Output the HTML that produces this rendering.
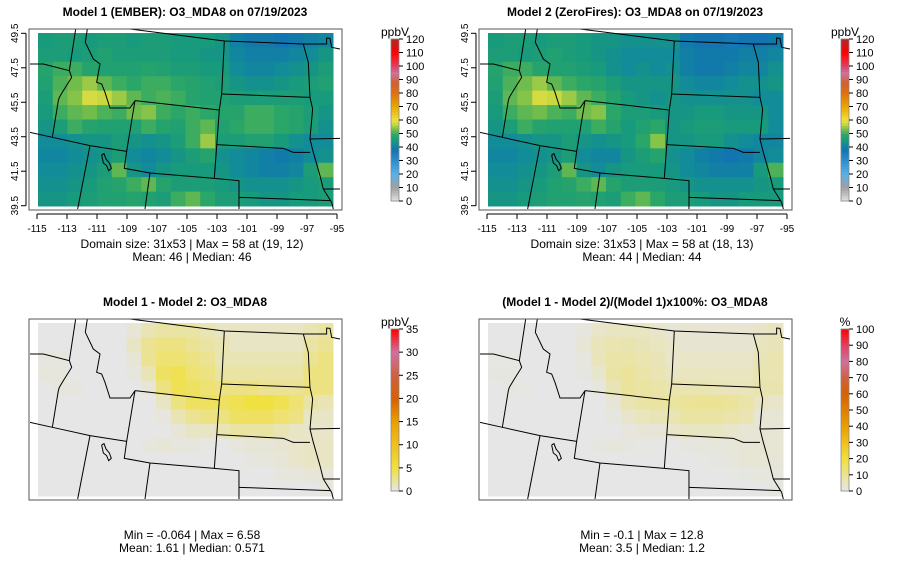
<!DOCTYPE html>
<html><head><meta charset="utf-8">
<style>
body{margin:0;background:#fff;}
svg{display:block;font-family:"Liberation Sans",sans-serif;}
</style></head>
<body>
<svg id="fig" width="900" height="579" viewBox="0 0 900 579"></svg>
<script>
// ---- data: 12 rows (north->south) x 20 cols (lon -115..-96)
const lonTicks=[-115,-113,-111,-109,-107,-105,-103,-101,-99,-97,-95];
const latTicks=[49.5,47.5,45.5,43.5,41.5,39.5];
const model1=[
[45,46,46,45,46,46,45,46,46,45,45,45,44,40,39,39,38,39,40,41],
[46,46,45,46,47,46,46,46,46,45,45,44,44,41,40,40,40,41,42,44],
[48,50,50,48,47,47,47,48,47,46,46,45,45,42,41,41,42,43,44,46],
[47,51,53,55,52,50,49,50,50,49,48,47,46,44,43,43,44,45,46,47],
[46,52,54,58,57,55,52,50,51,50,48,47,47,46,46,46,46,46,45,45],
[45,50,52,53,51,50,53,54,50,49,50,49,48,48,50,50,49,48,46,44],
[44,46,50,48,47,47,47,50,48,47,50,52,47,49,50,50,49,48,46,43],
[42,42,43,44,44,46,44,43,44,46,50,55,46,46,47,47,45,43,42,42],
[41,41,42,43,44,46,42,41,42,44,46,48,43,42,41,40,39,40,42,43],
[42,42,43,44,46,52,44,42,44,45,45,45,44,42,41,40,40,41,46,52],
[43,43,44,45,47,48,50,52,48,46,46,46,45,44,43,43,43,44,45,46],
[44,44,45,46,47,47,48,47,46,50,52,49,46,46,45,44,44,45,45,46]];
const model2=[
[45,46,46,45,46,46,45,44,44,43,43,43,43,39,38,38,37,38,38,39],
[46,46,45,46,47,46,45,44,43,42,42,42,42,40,39,39,39,40,40,41],
[48,50,50,48,47,47,46,45,43,42,43,42,43,40,39,39,40,41,41,43],
[47,51,53,55,52,50,49,48,46,44,44,44,44,42,41,41,42,43,43,44],
[46,52,54,58,57,55,52,50,48,45,44,43,44,43,43,43,43,43,42,42],
[45,50,52,53,51,50,53,54,49,46,46,45,44,44,45,45,44,44,44,42],
[44,46,50,48,47,47,47,50,48,45,47,49,44,45,46,46,45,45,45,42],
[42,42,43,44,44,46,44,43,44,45,49,54,44,44,45,45,43,42,41,41],
[41,41,42,43,44,46,42,41,41,44,46,48,43,42,40,39,38,39,41,42],
[42,42,43,44,46,52,44,42,44,45,45,45,44,42,41,40,40,40,45,51],
[43,43,44,45,47,48,50,52,48,46,46,46,45,44,43,43,43,43,44,45],
[44,44,45,46,47,47,48,47,46,50,52,49,46,46,45,44,44,45,45,45]];
const diff=[
[0,0,0,0,0,0,0.5,1.5,2,2,2,1.5,1,1,1,1,1,1,1.5,2],
[0,0,0,0,0,0,1,2.5,3,3,2.5,2,1.5,1,1,1,1,1,2,2.5],
[0.2,0.2,0,0,0,0,0.5,2.5,3.5,3.5,3,2.5,1.5,1.5,1.5,1.5,1.5,1.5,2.5,3],
[0.3,0.3,0,0,0,0,0.3,1.5,4,4.5,3.5,3,2,2,2,2,2,2,3,3],
[0,0.3,0.2,0,0,0,0,0.5,3,4.5,4,3.5,3,3,3,2.5,2.5,2.5,3,3],
[0,0,0,0,0,0,0,0,1,3,4,4,4,4.5,5,5,4.5,3.5,2,1.5],
[0,0,0,0,0,0,0,0,0.3,1.5,2.5,3,3,4,4,4,3.5,3,1,1],
[0,0,0,0,0,0,0,0,0,0.5,1,1,1.5,2,2,2,1.5,1,0.8,0.8],
[0,0,0,0,0,0,0,0.3,0.5,0.3,0.2,0.1,0,0.3,0.5,0.5,0.6,0.8,1,1],
[0,0,0,0,0,0,0,0,0,0,0,0,0,0,0.2,0.3,0.5,0.8,1,1],
[0,0,0,0,0,0,0,0,0,0,0,0,0,0,0,0,0.2,0.3,0.5,0.5],
[0,0,0,0,0,0,0,0,0,0,0,0,0,0,0,0,0,0,0,0.3]];
const ozoneTicks=[0,10,20,30,40,50,60,70,80,90,100,110,120];
const diffTicks=[0,5,10,15,20,25,30,35];
const pctTicks=[0,10,20,30,40,50,60,70,80,90,100];

// ---- palettes
const palO=[[0,'#e2e2e2'],[10,'#a0a0a0'],[20,'#5ab0e8'],[30,'#2a8fd0'],[38,'#1274b0'],[42,'#128c98'],[45,'#189a7c'],[49,'#2aa668'],[53,'#70bc4c'],[57,'#c8d840'],[60,'#f0e040'],[70,'#e8a800'],[80,'#e07010'],[88,'#d06030'],[95,'#d070a0'],[100,'#e04060'],[110,'#ff0000'],[120,'#b02828']];
const palD=[[0,'#e6e6e6'],[5,'#f0e040'],[10,'#f0c020'],[15,'#e8a000'],[20,'#d86000'],[25,'#d06040'],[30,'#d070a0'],[35,'#ff0000']];
const palP=[[0,'#e6e6e6'],[20,'#f0e040'],[30,'#f0c020'],[40,'#e8a000'],[60,'#d86000'],[70,'#d06040'],[80,'#d070a0'],[90,'#e04060'],[100,'#ff0000']];
function hx(c){return [1,3,5].map(i=>parseInt(c.substr(i,2),16));}
function col(p,v){
  if(v<=p[0][0])return p[0][1];
  for(let i=1;i<p.length;i++){if(v<=p[i][0]){const t=(v-p[i-1][0])/(p[i][0]-p[i-1][0]);const a=hx(p[i-1][1]),b=hx(p[i][1]);return 'rgb('+a.map((x,k)=>Math.round(x+(b[k]-x)*t)).join(',')+')';}}
  return p[p.length-1][1];
}
const NS='http://www.w3.org/2000/svg';
const svg=document.getElementById('fig');
function el(tag,attrs,parent,text){const e=document.createElementNS(NS,tag);for(const k in attrs)e.setAttribute(k,attrs[k]);if(text!==undefined)e.textContent=text;(parent||svg).appendChild(e);return e;}

// state outlines (in 3x-zoom local coords, origin at panel offset)
const borders=[
[[300,0],[583,36],[820,45],[890,45],[890,27],[900,28],[905,55],[930,60]],
[[137,0],[118,125]],
[[0,105],[40,105],[118,125],[125,145],[100,185],[88,205],[85,215],[67,325]],
[[172,0],[166,40],[190,90],[210,105],[200,160],[215,165],[225,190],[240,237],[300,237],[315,215]],
[[0,310],[67,325],[180,350],[290,367]],
[[315,215],[290,367],[283,418],[360,432],[553,448],[627,455],[627,540]],
[[315,215],[568,243]],
[[583,36],[575,195],[568,243],[553,448]],
[[575,195],[840,205]],
[[560,347],[760,358],[790,370],[840,370]],
[[627,505],[900,515]],
[[360,432],[345,540]],
[[180,350],[143,540]],
[[820,45],[835,100],[840,205],[848,240],[840,330],[850,370],[870,440],[880,480],[905,520],[910,540]],
[[840,330],[930,328]],
[[880,480],[930,480]],
[[215,378],[222,374],[228,390],[238,402],[244,418],[236,425],[230,410],[220,402],[215,378]]];

function panel(ox,oy,name,title,grid,pal,ticks,unit,info1,info2,axes,cbx){
  const g=el('g',{});
  
  
  const x0=ox+8,y0=oy+3,w=295,h=173;
  const nr=grid.length,nc=grid[0].length,cw=w/nc,ch=h/nr;
  const cells=el('g',{},g);
  
  
  grid.forEach((row,r)=>row.forEach((v,c)=>{
    const rc=el('rect',{x:(x0+c*cw).toFixed(2),y:(y0+r*ch).toFixed(2),width:(cw+0.5).toFixed(2),height:(ch+0.5).toFixed(2),fill:col(pal,v)},cells);
    
    
  }));
  const cp='cp'+name;
  const d=el('defs',{},g);const cpp=el('clipPath',{id:cp},d);el('rect',{x:ox,y:oy-1,width:312,height:181},cpp);
  const outer=el('g',{'clip-path':'url(#'+cp+')'},g);
  const bg=el('g',{transform:'translate('+ox+','+(oy-1)+') scale(0.3333)'},outer);
  
  
  borders.forEach(b=>el('polyline',{points:b.map(p=>p.join(',')).join(' '),fill:'none',stroke:'#000','stroke-width':3},bg));
  const box=el('rect',{x:ox-1,y:oy-1,width:313,height:181,fill:'none',stroke:'#555','stroke-width':1},g);
  
  
  const t=el('text',{x:ox+155,y:oy-14,'text-anchor':'middle','font-size':12,'font-weight':'bold'},g,title);
  
  
  if(axes){
    const xs=lon=>ox+7+(lon+115)*15;
    const ys=lat=>oy+3.3+(49.5-lat)*17.24;
    el('line',{x1:xs(-115),x2:xs(-95),y1:oy+184,y2:oy+184,stroke:'#000'},g);
    lonTicks.forEach(v=>{el('line',{x1:xs(v),x2:xs(v),y1:oy+184,y2:oy+189,stroke:'#000'},g);
      const l=el('text',{x:xs(v),y:oy+202,'text-anchor':'middle','font-size':10},g,String(v));
      
      });
    el('line',{x1:ox-4,x2:ox-4,y1:ys(49.5),y2:ys(39.5),stroke:'#000'},g);
    latTicks.forEach(v=>{el('line',{x1:ox-4,x2:ox-9,y1:ys(v),y2:ys(v),stroke:'#000'},g);
      const l=el('text',{x:ox-12,y:ys(v),'text-anchor':'middle','font-size':10,transform:'rotate(-90 '+(ox-12)+' '+ys(v)+')'},g,String(v));
      
      });
  }
  const iy=axes?oy+218:oy+219;
  const i1=el('text',{x:ox+162,y:iy,'text-anchor':'middle','font-size':12},g,info1);
  
  
  const i2=el('text',{x:ox+162,y:iy+13,'text-anchor':'middle','font-size':12},g,info2);
  
  
  // colorbar
  const cy0=oy+9,cy1=oy+171,mx=ticks[ticks.length-1];
  const cb=el('g',{},g);
  
  
  const n=60;
  for(let i=0;i<n;i++){const v=mx*(i+0.5)/n;el('rect',{x:cbx,y:cy1-(i+1)*(cy1-cy0)/n,width:8,height:(cy1-cy0)/n+0.4,fill:col(pal,v)},cb);}
  el('rect',{x:cbx,y:cy0,width:8,height:cy1-cy0,fill:'none',stroke:'#888','stroke-width':0.8},cb);
  ticks.forEach(v=>{const y=cy1-(v/mx)*(cy1-cy0);el('line',{x1:cbx+8,x2:cbx+12,y1:y,y2:y,stroke:'#000'},cb);
    const l=el('text',{x:cbx+15,y:y+4,'font-size':11},cb,String(v));
    
    });
  const u=el('text',{x:cbx+4,y:cy0-3,'text-anchor':'middle','font-size':12},cb,unit);
  
  
}
const pct=diff.map((row,r)=>row.map((v,c)=>v/model1[r][c]*100));
panel(30,30,'panel-model1','Model 1 (EMBER): O3_MDA8 on 07/19/2023',model1,palO,ozoneTicks,'ppbV','Domain size: 31x53 | Max = 58 at (19, 12)','Mean: 46 |  Median: 46',true,391);
panel(480,30,'panel-model2','Model 2 (ZeroFires): O3_MDA8 on 07/19/2023',model2,palO,ozoneTicks,'ppbV','Domain size: 31x53 | Max = 58 at (18, 13)','Mean: 44 |  Median: 44',true,841);
panel(30,320,'panel-diff','Model 1 - Model 2: O3_MDA8',diff,palD,diffTicks,'ppbV','Min = -0.064 | Max = 6.58','Mean: 1.61 |  Median: 0.571',false,391);
panel(480,320,'panel-pct','(Model 1 - Model 2)/(Model 1)x100%: O3_MDA8',pct,palP,pctTicks,'%','Min = -0.1 | Max = 12.8','Mean: 3.5 |  Median: 1.2',false,841);
</script>
</body></html>
